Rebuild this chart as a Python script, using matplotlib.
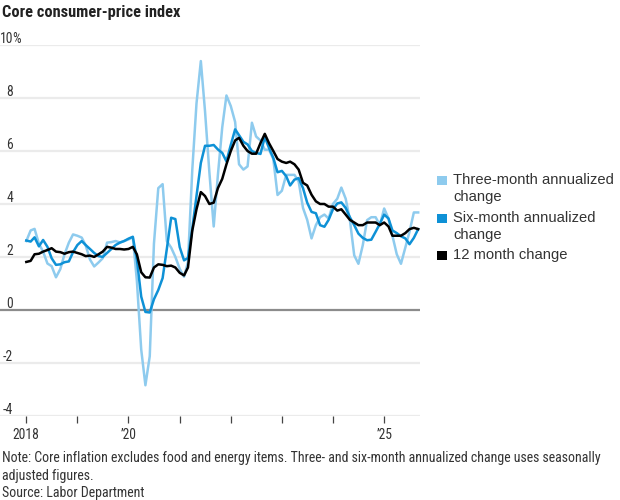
import matplotlib
matplotlib.use("Agg")
import matplotlib.pyplot as plt
import matplotlib.font_manager as fm
from matplotlib.patches import Rectangle
import pandas as pd

# ---- data (percent), monthly Jan 2018 - Sep 2025 ----
start_month = "2018-01-01"
three_month = [
    2.6, 3.0, 3.06, 2.5, 2.2, 1.75, 1.65, 1.23, 1.54, 2.1, 2.54, 2.85,
    2.8, 2.73, 2.44, 1.9, 1.64, 1.79, 1.95, 2.54, 2.56, 2.6, 2.55, 2.6,
    2.66, 2.75, 1.1, -1.5, -2.85, -1.75, 2.5, 4.6, 4.75, 2.6, 2.35, 2.0,
    1.55, 1.25, 1.8, 5.3, 7.8, 9.4, 7.5, 5.2, 3.15, 5.1, 6.9, 8.1,
    7.7, 7.1, 5.5, 5.3, 5.42, 7.07, 6.55, 6.4, 6.05, 6.05, 5.7, 4.34,
    4.5, 5.1, 5.1, 5.1, 4.85, 3.85, 3.4, 2.7, 3.2, 3.5, 3.6, 3.45,
    4.0, 4.2, 4.62, 4.2, 3.4, 2.06, 1.74, 2.44, 3.39, 3.5, 3.5, 3.2,
    3.83, 3.45, 2.8, 2.1, 1.74, 2.35, 2.95, 3.68, 3.68,
]
six_month = [
    2.62, 2.58, 2.74, 2.4, 2.64, 2.38, 1.95, 1.7, 1.72, 1.8, 1.83, 2.18,
    2.45, 2.6, 2.45, 2.3, 2.15, 2.03, 2.0, 2.15, 2.3, 2.45, 2.54, 2.6,
    2.69, 2.76, 1.9, 0.5, -0.08, -0.1, 0.4, 0.75, 1.2, 2.3, 3.48, 3.43,
    2.37, 1.87, 1.96, 3.07, 4.3, 5.55, 6.2, 6.2, 6.23, 6.06, 5.93, 5.61,
    6.23, 6.82, 6.6, 6.35, 6.25, 6.0, 5.93, 5.89, 6.53, 6.12, 5.74, 5.2,
    5.25, 5.05, 4.7, 4.92, 4.98, 4.6, 4.05, 3.7, 3.65, 3.2, 3.14, 3.4,
    3.8, 4.02, 4.06, 3.85, 3.5, 3.2, 2.88, 2.72, 2.63, 2.65, 2.95, 3.25,
    3.6, 3.45, 3.0, 2.9, 2.78, 2.7, 2.48, 2.72, 3.05,
]
twelve_month = [
    1.81, 1.85, 2.1, 2.12, 2.2, 2.26, 2.33, 2.2, 2.18, 2.12, 2.18, 2.2,
    2.15, 2.1, 2.03, 2.05, 2.0, 2.1, 2.2, 2.38, 2.35, 2.3, 2.3, 2.28,
    2.3, 2.38, 2.1, 1.42, 1.23, 1.22, 1.6, 1.72, 1.7, 1.65, 1.67, 1.6,
    1.4, 1.3, 1.6, 3.0, 3.8, 4.45, 4.3, 4.0, 4.05, 4.6, 4.95, 5.5,
    6.0, 6.4, 6.5, 6.2, 6.0, 5.9, 5.9, 6.3, 6.65, 6.3, 6.0, 5.7,
    5.6, 5.55, 5.6, 5.5, 5.3, 4.8, 4.7, 4.35, 4.1, 4.0, 4.0, 3.9,
    3.9, 3.75, 3.8, 3.6, 3.4, 3.3, 3.2, 3.2, 3.3, 3.3, 3.3, 3.2,
    3.3, 3.15, 2.8, 2.8, 2.8, 2.9, 3.05, 3.1, 3.05,
]
y_ticks = [-4, -2, 0, 2, 4, 6, 8, 10]
x_tick_years = [2018, 2019, 2020, 2021, 2022, 2023, 2024, 2025]
x_tick_labels = {2018: "2018", 2020: "\u201920", 2025: "\u201925"}
series_labels = ["Three-month annualized\nchange", "Six-month annualized\nchange", "12 month change"]


# ---- pick a condensed sans if one is installed ----
def _is_bold(f):
    w = f.weight
    if isinstance(w, str):
        return w.lower() in ("bold", "semibold", "demibold", "demi", "heavy", "extra bold", "black")
    return w >= 600


def _cond(f):
    s = str(f.stretch).lower()
    return ("condensed" in s or "narrow" in s or "Condensed" in f.name or "Narrow" in f.name
            or "Condensed" in f.fname or "Narrow" in f.fname)


def find_condensed(bold):
    prefs = ["Roboto Condensed", "Liberation Sans Narrow", "Open Sans Condensed",
             "Noto Sans Condensed", "Noto Sans", "Open Sans", "DejaVu Sans", "Roboto"]
    fl = [f for f in fm.fontManager.ttflist if f.style == "normal" and _cond(f)]
    for p in prefs:
        for f in fl:
            if (f.name == p or f.name.startswith(p)) and _is_bold(f) == bold:
                fn = f.fname.lower()
                if "semi" in fn or "extra" in fn or "light" in fn or "thin" in fn or "medium" in fn:
                    continue
                return fm.FontProperties(fname=f.fname)
    for f in fl:
        if _is_bold(f) == bold:
            return fm.FontProperties(fname=f.fname)
    return None


fp_reg = find_condensed(False)
fp_bold = find_condensed(True)
condensed_ok = fp_reg is not None
if fp_reg is None:
    fp_reg = fm.FontProperties(family=["Liberation Sans", "DejaVu Sans"])
if fp_bold is None:
    fp_bold = fm.FontProperties(family=["Liberation Sans", "DejaVu Sans"], weight="bold")
scale = 1.0 if condensed_ok else 0.86


def fprop(base, size):
    p = base.copy()
    p.set_size(size)
    return p


months = pd.date_range(start_month, periods=len(twelve_month), freq="MS")

W, H = 620, 500
fig = plt.figure(figsize=(6.2, 5.0), dpi=100)
ax = fig.add_axes([0.0, 1 - 415.7 / H, 420 / W, (415.7 - 45.2) / H])

c_light = "#8ecbee"
c_mid = "#0e91d6"
c_black = "#000000"
txt = "#333333"

ax.set_ylim(-4, 10)
ax.set_xlim(pd.Timestamp("2017-06-27"), pd.Timestamp("2025-09-14"))

for t in y_ticks:
    if t != 0:
        ax.axhline(t, color="#ebebeb", lw=1.6, zorder=0)
ax.axhline(0, color="#8c8c8c", lw=1.6, zorder=1)

ax.plot(months, three_month, color=c_light, lw=1.8, zorder=3)
ax.plot(months, six_month, color=c_mid, lw=1.8, zorder=4)
ax.plot(months, twelve_month, color=c_black, lw=1.8, zorder=5)

for s in ax.spines.values():
    s.set_visible(False)
ax.set_yticks([])
ticks = [pd.Timestamp(f"{y}-01-01") for y in x_tick_years]
ax.set_xticks(ticks)
ax.set_xticklabels([x_tick_labels.get(y, "") for y in x_tick_years],
                   fontproperties=fprop(fp_reg, 9.8 * scale))
ax.tick_params(axis="x", length=5, width=0.9, color="#444444", direction="out",
               labelcolor=txt, pad=4)

# y labels: numbers right-aligned at x=13px, sitting on gridlines
for t in y_ticks:
    ax.annotate(str(t), xy=(0, t), xycoords=("axes fraction", "data"),
                xytext=(13, 2), textcoords="offset pixels", ha="right", va="baseline",
                fontproperties=fprop(fp_reg, 9.8 * scale), color=txt)
ax.annotate("%", xy=(0, 10), xycoords=("axes fraction", "data"),
            xytext=(12, 2), textcoords="offset pixels", ha="left", va="baseline",
            fontproperties=fprop(fp_reg, 9.8 * scale), color=txt)

# title
fig.text(2 / W, 1 - 12 / H, "Core consumer-price index",
         fontproperties=fprop(fp_bold, 11.8 * scale), color="#222222", ha="left", va="center")

# legend (custom)
leg_font = fm.FontProperties(family=["Liberation Sans", "DejaVu Sans"], size=10.6)
legend_rows = [(180, c_light), (218, c_mid), (255, c_black)]
for (yc, col), lab in zip(legend_rows, series_labels):
    fig.add_artist(Rectangle((437 / W, 1 - (yc + 5) / H), 9.5 / W, 9.5 / H,
                             transform=fig.transFigure, color=col, lw=0))
    fig.text(453 / W, 1 - (yc - 6.5) / H, lab, fontproperties=leg_font, color=txt,
             ha="left", va="top", linespacing=1.25)

# notes
note_font = fprop(fp_reg, 10.0 * scale)
fig.text(2 / W, 1 - 451 / H,
         "Note: Core inflation excludes food and energy items. Three- and six-month annualized change uses seasonally\nadjusted figures.",
         fontproperties=note_font, color=txt, ha="left", va="top", linespacing=1.35)
fig.text(2 / W, 1 - 486.5 / H, "Source: Labor Department",
         fontproperties=note_font, color=txt, ha="left", va="top")

fig.savefig("out.png", dpi=100)
